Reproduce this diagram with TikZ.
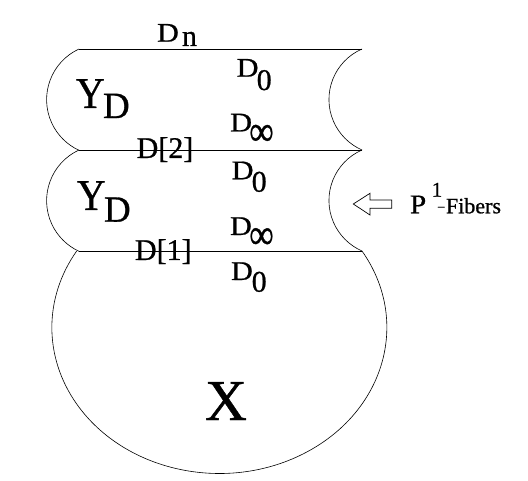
\documentclass[tikz,border=0pt]{standalone}
\usepackage{fontspec}
\setmainfont{Liberation Serif}[RawFeature={embolden=0.8}]
\newcommand\fsz[1]{\fontsize{#1}{#1}\selectfont}
\newcommand\wideD{\scalebox{1.12}[1]{D}}
\begin{document}
\begin{tikzpicture}[x=1pt,y=1pt,
  lab/.style={inner sep=0pt,outer sep=0pt,anchor=base west},
  edge/.style={line width=0.8pt},
  curve/.style={line width=0.6pt}]
\useasboundingbox (0,0) rectangle (528,-481);
% band boundaries
\coordinate (tl) at (79,-49);  \coordinate (tr) at (362,-49);
\coordinate (ml) at (79,-150); \coordinate (mr) at (362,-150);
\coordinate (bl) at (79,-251); \coordinate (br) at (362,-251);
\draw[edge] (tl) -- (tr);
\draw[edge] (ml) -- (mr);
\draw[edge] (bl) -- (br);
% left arcs
\draw[curve] (tl) arc[start angle=114.8,end angle=245.2,radius=55.8];
\draw[curve] (ml) arc[start angle=114.8,end angle=245.2,radius=55.8];
% right arcs
\draw[curve] (tr) arc[start angle=113.6,end angle=246.4,radius=55.1];
\draw[curve] (mr) arc[start angle=113.6,end angle=246.4,radius=55.1];
% bottom X region
\draw[curve] (br) arc[start angle=31.6,end angle=-211.6,x radius=167.5,y radius=146];
% labels top band
\node[lab] (dnD) at (157,-41.7) {\fsz{27}\wideD};
\node[lab] (dnn) at (182,-46) {\fsz{30}n};
\node[lab] (y1) at (76,-108) {\fsz{44}\scalebox{0.9}[1]{Y}};
\node[lab] (y1d) at (103,-118) {\fsz{37}D};
\node[lab] (d0aD) at (236.7,-76.7) {\fsz{27}\wideD};
\node[lab] (d0a0) at (256.7,-90) {\fsz{30}0};
\node[inner sep=0pt,anchor=south west] (diaD) at (230,-131.7) {\fsz{27}\wideD};
\node[inner sep=0pt] (diainf) at (261.5,-135) {\fsz{34}\scalebox{1}[1.25]{∞}};
\node[lab] (d2) at (136.7,-158) {\fsz{30}D[2]};
% labels second band
\node[lab] (y2) at (77,-210) {\fsz{44}\scalebox{0.9}[1]{Y}};
\node[lab] (y2d) at (104,-221.7) {\fsz{37}D};
\node[lab] (d0bD) at (231.7,-179.3) {\fsz{27}\wideD};
\node[lab] (d0b0) at (251.7,-191.7) {\fsz{30}0};
\node[lab] (dibD) at (230,-235) {\fsz{27}\wideD};
\node[inner sep=0pt] (dibinf) at (261.5,-238.3) {\fsz{34}\scalebox{1}[1.25]{∞}};
\node[lab] (d1) at (135,-260) {\fsz{30}D[1]};
% labels bottom
\node[lab] (d0cD) at (231,-280) {\fsz{27}\wideD};
\node[lab] (d0c0) at (251.7,-291.7) {\fsz{30}0};
\node[lab] (x) at (205,-420) {\fsz{58}X};
% fibers arrow and label
\draw[line width=0.7pt] (353.3,-204) -- (370,-193.3) -- (370,-200) -- (391.7,-200)
  -- (391.7,-208.3) -- (370,-208.3) -- (370,-215) -- cycle;
\node[lab] (p) at (410,-213.3) {\fsz{27}\scalebox{1.08}[1]{P}};
\node[lab] (p1) at (431.7,-196.7) {\fsz{21}1};
\node[lab] (fib) at (438,-213.3) {\raisebox{3pt}{\fsz{13}–}\hspace{1.5pt}\fsz{22}Fibers};
\end{tikzpicture}
\end{document}
